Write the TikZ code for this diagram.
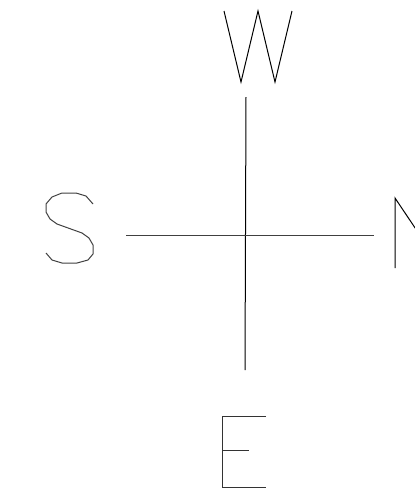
\documentclass[tikz,border=0pt]{standalone}
\begin{document}
\begin{tikzpicture}[x=1pt,y=-1pt,
  stroke/.style={line width=1pt,draw=black,line join=miter}]
\useasboundingbox (0,0) rectangle (415,491);
% axes
\coordinate (top) at (246,97);
\coordinate (bot) at (245,370);
\coordinate (lft) at (126,235);
\coordinate (rgt) at (374,235);
\draw[stroke] (top) -- (bot);
\draw[stroke,draw=black!75] (lft) -- (rgt);
% W
\draw[stroke] (224,11) -- (241,82) -- (258,11) -- (275,82) -- (292,11);
% S
\draw[stroke,draw=black!75] (93,204) -- (86,196) -- (76,193) -- (62,193) -- (52,197) -- (46,204) -- (46,212) -- (50,219) -- (57,224) -- (82,233) -- (89,238) -- (93,245) -- (93,254) -- (88,260) -- (77,263) -- (62,263) -- (52,260) -- (46,253);
% N (cut off at the right edge)
\begin{scope}
\clip (0,0) rectangle (415,491);
\draw[stroke] (395,268) -- (395,198) -- (442,268) -- (442,198);
\end{scope}
% E
\draw[stroke,draw=black!80] (266,416) -- (222,416) -- (222,487) -- (266,487);
\draw[stroke,draw=black!80] (222,450) -- (249,450);
\end{tikzpicture}
\end{document}
